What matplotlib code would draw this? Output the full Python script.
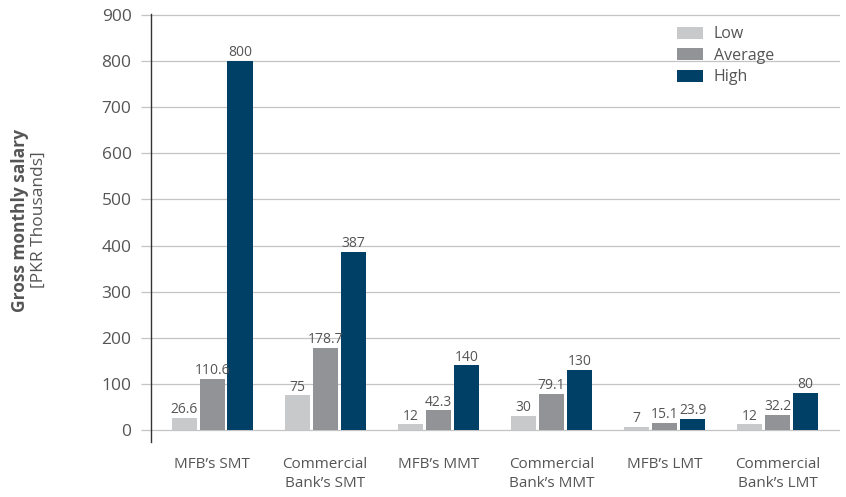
import matplotlib
matplotlib.use("Agg")
import matplotlib.pyplot as plt
import numpy as np

plt.rcParams['font.family'] = ['Open Sans', 'DejaVu Sans']

categories = ["MFB\u2019s SMT", "Commercial\nBank\u2019s SMT", "MFB\u2019s MMT",
              "Commercial\nBank\u2019s MMT", "MFB\u2019s LMT", "Commercial\nBank\u2019s LMT"]
low = [26.6, 75, 12, 30, 7, 12]
average = [110.6, 178.7, 42.3, 79.1, 15.1, 32.2]
high = [800, 387, 140, 130, 23.9, 80]
low_labels = ["26.6", "75", "12", "30", "7", "12"]
avg_labels = ["110.6", "178.7", "42.3", "79.1", "15.1", "32.2"]
high_labels = ["800", "387", "140", "130", "23.9", "80"]
yticks = [0, 100, 200, 300, 400, 500, 600, 700, 800, 900]

series = [
    ("Low", low, low_labels, "#c8c9cb"),
    ("Average", average, avg_labels, "#929397"),
    ("High", high, high_labels, "#003f66"),
]

fig = plt.figure(figsize=(8.46, 4.97), dpi=100)
ax = fig.add_axes([151/846, 1-442/497, (840-151)/846, (442-14)/497])

x = np.arange(len(categories))
width = 0.222
step = 0.247
text_color = "#555555"

for i, (name, vals, labels, color) in enumerate(series):
    pos = x + (i - 1) * step
    bars = ax.bar(pos, vals, width, color=color, label=name, zorder=3)
    for b, lab in zip(bars, labels):
        ax.annotate(lab, (b.get_x() + b.get_width()/2, b.get_height()),
                    xytext=(0, 0.5), textcoords="offset points",
                    ha="center", va="bottom", fontsize=10, color=text_color,
                    zorder=4)

ax.set_xlim(-0.54, 5.55)
ax.set_ylim(-26, 902)
ax.set_yticks(yticks)
ax.set_yticklabels([str(v) for v in yticks], fontsize=12.5, color=text_color)
ax.set_xticks(x)
ax.set_xticklabels(categories, fontsize=11, color=text_color, linespacing=1.3)

ax.grid(axis="y", color="#c4c4c4", linewidth=0.9, zorder=0)
ax.tick_params(axis="y", length=7, color="#c4c4c4", width=0.9, pad=7)
ax.tick_params(axis="x", length=0, pad=11)
for s in ["top", "right", "bottom"]:
    ax.spines[s].set_visible(False)
ax.spines["left"].set_color("#333333")
ax.spines["left"].set_linewidth(1.0)

fig.text(20/846, 1-220/497, "Gross monthly salary", rotation=90, ha="center",
         va="center", fontsize=12.5, fontweight="bold", color=text_color)
fig.text(39/846, 1-220/497, "[PKR Thousands]", rotation=90, ha="center",
         va="center", fontsize=12.5, color=text_color)

leg = ax.legend(loc="upper right", bbox_to_anchor=(0.925, 1.005), frameon=False,
                fontsize=11.5, handlelength=1.6, handleheight=0.75,
                labelspacing=0.35, handletextpad=0.7)
for t in leg.get_texts():
    t.set_color(text_color)

fig.savefig("out.png", dpi=100)
